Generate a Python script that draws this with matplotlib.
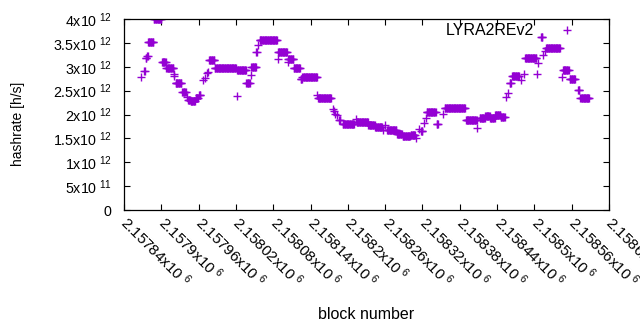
import matplotlib
matplotlib.use("Agg")
import matplotlib.pyplot as plt
import matplotlib.ticker as mticker
import numpy as np

# ── Data: runs of blocks sharing one hashrate estimate (units of 1e12 h/s) ────

run_first = [
    2157868, 2157872, 2157875, 2157877, 2157879, 2157888, 2157901, 2157908,
    2157920, 2157921, 2157923, 2157934, 2157941, 2157943, 2157947, 2157955,
    2157961, 2157967, 2157970, 2157973, 2157975, 2157977, 2157986, 2158021,
    2158022, 2158037, 2158044, 2158045, 2158053, 2158056, 2158058, 2158087,
    2158088, 2158103, 2158104, 2158113, 2158124, 2158127, 2158151, 2158152,
    2158176, 2158177, 2158179, 2158183, 2158186, 2158192, 2158213, 2158214,
    2158233, 2158244, 2158256, 2158259, 2158263, 2158279, 2158288, 2158301,
    2158310, 2158314, 2158318, 2158323, 2158326, 2158327, 2158343, 2158353,
    2158356, 2158390, 2158408, 2158412, 2158421, 2158429, 2158437, 2158446,
    2158454, 2158457, 2158460, 2158464, 2158478, 2158484, 2158485, 2158505,
    2158506, 2158511, 2158514, 2158517, 2158519, 2158544, 2158546, 2158557,
    2158570, 2158574,
]
run_last = [
    2157868, 2157873, 2157876, 2157878, 2157887, 2157900, 2157907, 2157919,
    2157920, 2157921, 2157932, 2157939, 2157941, 2157946, 2157954, 2157959,
    2157963, 2157967, 2157970, 2157973, 2157975, 2157985, 2158020, 2158021,
    2158036, 2158042, 2158044, 2158052, 2158054, 2158056, 2158086, 2158087,
    2158102, 2158103, 2158112, 2158123, 2158126, 2158150, 2158151, 2158173,
    2158176, 2158177, 2158179, 2158183, 2158188, 2158210, 2158213, 2158232,
    2158243, 2158255, 2158256, 2158259, 2158278, 2158287, 2158300, 2158308,
    2158310, 2158314, 2158320, 2158323, 2158326, 2158341, 2158345, 2158353,
    2158388, 2158407, 2158408, 2158420, 2158428, 2158436, 2158445, 2158452,
    2158454, 2158457, 2158462, 2158475, 2158478, 2158484, 2158503, 2158505,
    2158506, 2158513, 2158514, 2158517, 2158541, 2158544, 2158555, 2158565,
    2158572, 2158588,
]
run_rate = [
    2.78, 2.92, 3.19, 3.23, 3.52, 4.00, 3.09, 2.97,
    2.85, 2.80, 2.65, 2.47, 2.36, 2.31, 2.29, 2.34,
    2.40, 2.72, 2.77, 2.86, 2.88, 3.14, 2.97, 2.39,
    2.93, 2.67, 2.82, 2.99, 3.30, 3.45, 3.55, 3.16,
    3.30, 3.10, 3.16, 2.97, 2.75, 2.78, 2.40, 2.34,
    2.12, 2.07, 2.02, 1.98, 1.88, 1.81, 1.91, 1.84,
    1.79, 1.74, 1.68, 1.78, 1.67, 1.60, 1.55, 1.58,
    1.50, 1.70, 1.65, 1.82, 1.92, 2.05, 1.80, 2.01,
    2.14, 1.88, 1.71, 1.92, 1.97, 1.93, 1.98, 1.95,
    2.37, 2.44, 2.65, 2.81, 2.73, 2.85, 3.19, 2.85,
    3.07, 3.62, 3.24, 3.32, 3.39, 2.78, 2.93, 2.74,
    2.51, 2.35,
]

x_ticks = list(range(2157840, 2158621, 60))
y_ticks = [0, 0.5e12, 1e12, 1.5e12, 2e12, 2.5e12, 3e12, 3.5e12, 4e12]

SERIES = "LYRA2REv2"
COLOR = "#9400d3"

# one point per block
blocks = np.concatenate([np.arange(a, b + 1) for a, b in zip(run_first, run_last)])
rates = np.concatenate([np.full(b - a + 1, r * 1e12)
                        for a, b, r in zip(run_first, run_last, run_rate)])


def sci_label(v, mant_fmt, gap=r"\,"):
    if v == 0:
        return "0"
    exp = int(np.floor(np.log10(abs(v))))
    mant = mant_fmt(v / 10 ** exp)
    return r"$\mathregular{%sx10^{%s%d}}$" % (mant, gap, exp)


def main():
    plt.rcParams["font.family"] = ["Liberation Sans", "DejaVu Sans"]

    fig = plt.figure(figsize=(6.4, 3.3), dpi=100)
    ax = fig.add_axes([124 / 640, 1 - 210 / 330, 485 / 640, 191 / 330])

    ax.plot(blocks, rates, ls="none", marker="+", ms=6.0, mew=1.0,
            color=COLOR, label=SERIES)

    ax.set_xlim(x_ticks[0], x_ticks[-1])
    ax.set_ylim(0, 4e12)
    ax.set_xticks(x_ticks)
    ax.set_yticks(y_ticks)
    ax.xaxis.set_major_formatter(mticker.FuncFormatter(
        lambda v, _: sci_label(v, lambda m: f"{m:.6g}", r"\ ")))
    ax.yaxis.set_major_formatter(mticker.FuncFormatter(
        lambda v, _: sci_label(v, lambda m: f"{m:g}", r"\ ")))

    ax.tick_params(direction="in", length=4, width=0.8, top=True, right=True,
                   colors="black")
    ax.tick_params(axis="x", labelsize=11, pad=7)
    ax.tick_params(axis="y", labelsize=10.3, pad=9)
    for lbl in ax.get_xticklabels():
        lbl.set_rotation(-45)
        lbl.set_ha("left")
        lbl.set_va("center")
        lbl.set_rotation_mode("anchor")
    for s in ax.spines.values():
        s.set_linewidth(0.9)

    ax.set_xlabel("block number", fontsize=11.5)
    ax.set_ylabel("hashrate [h/s]", fontsize=10)
    ax.xaxis.set_label_coords(0.5, -0.51)
    ax.yaxis.set_label_coords(-0.205, 0.45)

    ax.legend(loc="upper right", bbox_to_anchor=(0.96, 1.01), frameon=False,
              markerfirst=False, handlelength=2.0, handletextpad=1.05,
              fontsize=11.5, borderaxespad=0)

    fig.savefig("out.png", dpi=100)


if __name__ == "__main__":
    main()
